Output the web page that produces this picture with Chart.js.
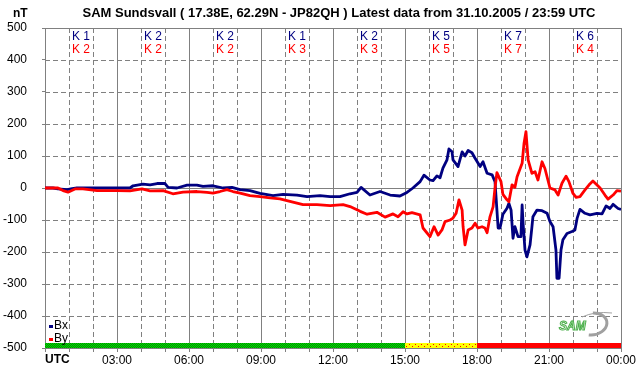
<!DOCTYPE html>
<html lang="en">
<head>
<meta charset="UTF-8">
<title>SAM Sundsvall</title>
<script src="https://cdn.jsdelivr.net/npm/chart.js"></script>
<style>
  html, body { margin: 0; padding: 0; background: #fff; }
  #wrap { width: 642px; height: 376px; }
</style>
</head>
<body>
<div id="wrap"><canvas id="chartSam" width="642" height="376"></canvas></div>
<script>
    // hours since 00:00 UTC and field values in nT
    var bxHours = [0, 0.33, 0.54, 0.92, 1.13, 1.33, 3.54, 3.67, 4.08, 4.38, 4.67, 5.00, 5.13, 5.50, 5.92, 6.33, 6.58, 7.00, 7.42, 7.79,
        8.13, 8.54, 8.96, 9.50, 9.92, 10.50, 10.92, 11.46, 11.88, 12.29, 12.71, 13.00, 13.17, 13.54, 13.96, 14.38, 14.79, 15.08, 15.33, 15.63,
        15.79, 16.04, 16.17, 16.33, 16.46, 16.58, 16.75, 16.83, 16.96, 17.00, 17.21, 17.38, 17.50, 17.63, 17.79, 17.92, 18.13, 18.25, 18.42, 18.63,
        18.75, 18.83, 18.88, 18.96, 19.08, 19.25, 19.33, 19.42, 19.50, 19.58, 19.71, 19.83, 19.88, 19.92, 20.00, 20.08, 20.21, 20.29, 20.33, 20.50,
        20.71, 20.92, 21.04, 21.17, 21.29, 21.33, 21.42, 21.50, 21.58, 21.75, 21.96, 22.08, 22.17, 22.29, 22.50, 22.71, 23.00, 23.21, 23.38, 23.54,
        23.67, 23.88, 24.00]
    var bxValues = [0, 0, -3, -5, -2, 0, 0, 7, 12, 10, 14, 14, 2, 0, 9, 9, 5, 7, 0, 2,
        -5, -8, -17, -24, -20, -22, -27, -24, -27, -27, -18, -14, 2, -22, -11, -22, -25, -14, 0, 20,
        40, 25, 23, 38, 32, 62, 88, 122, 113, 88, 67, 113, 100, 117, 110, 93, 67, 82, 46, 41,
        20, -69, -125, -125, -82, -63, -48, -69, -157, -121, -152, -152, -53, -110, -194, -215, -178, -121, -90, -69,
        -71, -79, -105, -121, -194, -282, -282, -194, -162, -142, -136, -131, -95, -67, -79, -84, -79, -81, -56, -64,
        -51, -64, -67]

    var byHours = [0, 0.54, 0.75, 0.96, 1.25, 1.58, 2.17, 3.00, 3.54, 4.04, 4.38, 4.92, 5.33, 5.75, 6.33, 6.75, 7.00, 7.29, 7.58, 7.83,
        8.13, 8.54, 8.96, 9.38, 9.79, 10.33, 10.75, 11.33, 11.88, 12.42, 12.71, 13.13, 13.42, 13.83, 14.17, 14.50, 14.71, 14.92, 15.08, 15.29,
        15.63, 15.75, 16.04, 16.21, 16.38, 16.54, 16.67, 16.88, 17.00, 17.13, 17.25, 17.38, 17.42, 17.50, 17.63, 17.79, 17.92, 18.04, 18.21, 18.33,
        18.42, 18.54, 18.67, 18.75, 18.83, 19.00, 19.08, 19.25, 19.33, 19.46, 19.58, 19.67, 19.88, 19.96, 20.04, 20.13, 20.29, 20.42, 20.54, 20.71,
        20.83, 21.04, 21.25, 21.38, 21.54, 21.71, 21.83, 22.00, 22.13, 22.29, 22.50, 22.67, 22.83, 23.13, 23.33, 23.46, 23.67, 23.83, 24.00]
    var byValues = [0, 0, -8, -13, -3, -3, -8, -8, -9, -3, -9, -8, -18, -13, -11, -14, -16, -11, -5, -11,
        -16, -24, -27, -31, -34, -44, -52, -52, -55, -52, -58, -73, -82, -76, -91, -81, -90, -74, -81, -77,
        -84, -125, -152, -121, -147, -131, -105, -100, -94, -79, -37, -69, -121, -178, -131, -125, -110, -125, -121, -125,
        -140, -90, -59, 0, 48, 20, -20, -37, -43, 10, 2, 35, 77, 140, 176, 88, 46, 51, 25, 82,
        61, 0, -6, -22, 15, 37, 20, -17, -29, -27, -6, 10, 22, 0, -22, -35, -22, -8, -10]

    // K indices per 3 hour block
    var kBx = [1, 2, 2, 1, 2, 5, 7, 6]
    var kBy = [2, 2, 2, 3, 3, 5, 7, 4]

    var tickHours = [0, 3, 6, 9, 12, 15, 18, 21, 24]
    var tickLabels = ['UTC', '03:00', '06:00', '09:00', '12:00', '15:00', '18:00', '21:00', '00:00']

    var titulo = 'SAM Sundsvall ( 17.38E, 62.29N - JP82QH ) Latest data from 31.10.2005 / 23:59 UTC'
    var unidade = 'nT'
    var FONTE = '"Liberation Sans", Arial, sans-serif'
    var CINZA = '#808080'

    function pontos(horas, valores) {
        var lista = []
        for (var i = 0; i < horas.length; i++) {
            lista.push({ x: horas[i], y: valores[i] })
        }
        return lista
    }

    function padrao(w, h, fundo, pixels) {
        var c = document.createElement('canvas')
        c.width = w
        c.height = h
        var g = c.getContext('2d')
        g.fillStyle = fundo
        g.fillRect(0, 0, w, h)
        pixels.forEach(function (p) {
            g.fillStyle = p[2]
            g.fillRect(p[0], p[1], 1, 1)
        })
        return document.getElementById('chartSam').getContext('2d').createPattern(c, 'repeat')
    }

    var verde = padrao(2, 2, '#00e000', [[1, 0, '#008800'], [0, 1, '#008800']])
    var amarelo = padrao(6, 4, '#ffff00', [[1, 0, '#ff0000'], [4, 2, '#ff0000']])

    const decoracao = {
        id: 'decoracao',
        beforeDatasetsDraw(chart) {
            const ctx = chart.ctx
            const a = chart.chartArea
            const x = chart.scales.x
            const y = chart.scales.y
            ctx.save()
            ctx.lineWidth = 1
            ctx.strokeStyle = CINZA
            // horizontal grid
            for (var v = -400; v <= 400; v += 100) {
                var py = Math.round(y.getPixelForValue(v)) + 0.5
                ctx.setLineDash(v === 0 ? [] : [5, 3])
                ctx.beginPath()
                ctx.moveTo(a.left, py)
                ctx.lineTo(a.right, py)
                ctx.stroke()
            }
            // vertical grid
            for (var h = 1; h < 24; h++) {
                var px = Math.round(x.getPixelForValue(h)) + 0.5
                ctx.setLineDash(h % 3 === 0 ? [] : [5, 3])
                ctx.beginPath()
                ctx.moveTo(px, a.top)
                ctx.lineTo(px, a.bottom)
                ctx.stroke()
            }
            ctx.setLineDash([])
            ctx.strokeRect(Math.round(a.left) + 0.5, Math.round(a.top) + 0.5, Math.round(a.right - a.left), Math.round(a.bottom - a.top))

            // K labels
            ctx.font = '12px ' + FONTE
            ctx.textAlign = 'center'
            ctx.textBaseline = 'middle'
            for (var i = 0; i < kBx.length; i++) {
                var cx = x.getPixelForValue(i * 3 + 1.5)
                ctx.fillStyle = '#000080'
                ctx.fillText('K ' + kBx[i], cx, a.top + 9)
                ctx.fillStyle = '#ff0000'
                ctx.fillText('K ' + kBy[i], cx, a.top + 22)
            }
            ctx.restore()
        },
        afterDatasetsDraw(chart) {
            const ctx = chart.ctx
            const a = chart.chartArea
            const x = chart.scales.x
            ctx.save()
            // activity bar at the bottom
            for (var i = 0; i < kBx.length; i++) {
                var k = Math.max(kBx[i], kBy[i])
                var x0 = x.getPixelForValue(i * 3)
                var x1 = x.getPixelForValue(i * 3 + 3)
                ctx.fillStyle = k < 5 ? verde : (k === 5 ? amarelo : '#ff0000')
                ctx.fillRect(x0, a.bottom - 5, x1 - x0, 5)
            }

            // legend
            ctx.font = '12px ' + FONTE
            ctx.textAlign = 'left'
            ctx.textBaseline = 'middle'
            chart.data.datasets.forEach(function (ds, j) {
                var ly = a.bottom - 22 + j * 13
                ctx.fillStyle = ds.borderColor
                ctx.fillRect(a.left + 4, ly - 1, 4, 3)
                ctx.fillStyle = '#000'
                ctx.fillText(ds.label, a.left + 9, ly)
            })

            // SAM logo
            ctx.strokeStyle = '#a0a0a0'
            ctx.lineWidth = 3
            ctx.beginPath()
            ctx.ellipse(592, 324, 15, 11, -0.15, -1.4, 1.9)
            ctx.stroke()
            ctx.lineWidth = 1
            ctx.beginPath()
            ctx.moveTo(582, 317)
            ctx.quadraticCurveTo(595, 311, 612, 313)
            ctx.stroke()
            ctx.font = 'italic bold 12px ' + FONTE
            ctx.fillStyle = '#eef4ea'
            ctx.strokeStyle = '#4cb04c'
            ctx.fillText('SAM', 559, 327)
            ctx.strokeText('SAM', 559, 327)

            // UTC label
            ctx.fillStyle = '#000'
            ctx.font = 'bold 12px ' + FONTE
            ctx.fillText(tickLabels[0], a.left, a.bottom + 12)
            ctx.restore()
        },
        afterDraw(chart) {
            const ctx = chart.ctx
            ctx.save()
            ctx.fillStyle = '#000'
            ctx.textBaseline = 'alphabetic'
            ctx.font = 'bold 13px ' + FONTE
            ctx.textAlign = 'center'
            ctx.fillText(titulo, 339, 17)
            ctx.font = 'bold 12px ' + FONTE
            ctx.textAlign = 'left'
            ctx.fillText(unidade, 13, 17)
            ctx.restore()
        }
    }

    const config = {
        type: 'line',
        data: {
            datasets: [
                {
                    label: 'Bx',
                    data: pontos(bxHours, bxValues),
                    borderColor: '#000080',
                    backgroundColor: '#000080',
                    borderWidth: 2.8,
                    borderJoinStyle: 'round',
                    pointRadius: 0,
                    tension: 0,
                    order: 2
                },
                {
                    label: 'By',
                    data: pontos(byHours, byValues),
                    borderColor: '#ff0000',
                    backgroundColor: '#ff0000',
                    borderWidth: 2.8,
                    borderJoinStyle: 'round',
                    pointRadius: 0,
                    tension: 0,
                    order: 1
                }
            ]
        },
        options: {
            responsive: false,
            animation: false,
            layout: { padding: { top: 28, right: 21, left: 0, bottom: 0 } },
            plugins: {
                legend: { display: false },
                title: { display: false },
                tooltip: { enabled: false }
            },
            scales: {
                x: {
                    type: 'linear',
                    min: 0,
                    max: 24,
                    afterFit: function (s) { s.height = 28 },
                    ticks: {
                        stepSize: 1,
                        autoSkip: false,
                        maxRotation: 0,
                        padding: 1,
                        color: '#000',
                        font: { family: FONTE, size: 12 },
                        callback: function (v) {
                            var i = tickHours.indexOf(v)
                            return i > 0 ? tickLabels[i] : ''
                        }
                    },
                    grid: { drawOnChartArea: false, tickLength: 4, color: CINZA },
                    border: { display: false }
                },
                y: {
                    min: -500,
                    max: 500,
                    afterFit: function (s) { s.width = 45 },
                    ticks: {
                        stepSize: 100,
                        padding: 15,
                        color: '#000',
                        font: { family: FONTE, size: 12 }
                    },
                    grid: { drawOnChartArea: false, tickLength: 3, color: CINZA },
                    border: { display: false }
                }
            }
        },
        plugins: [decoracao]
    }

    const grafico = new Chart(document.getElementById('chartSam'), config)
</script>
</body>
</html>
